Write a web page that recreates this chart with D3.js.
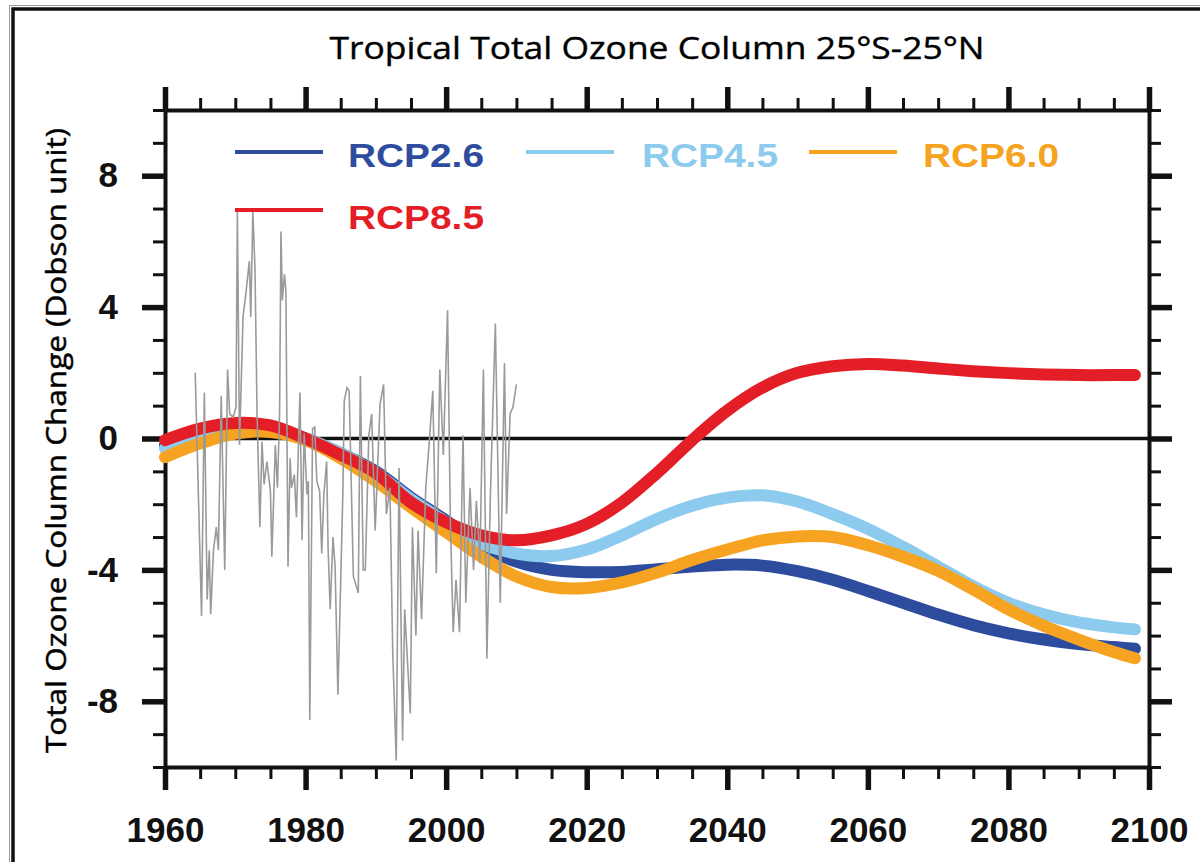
<!DOCTYPE html>
<html>
<head>
<meta charset="utf-8">
<script src="https://cdn.jsdelivr.net/npm/d3@7"></script>
<style>
  html, body { margin: 0; padding: 0; background: #fff; }
  svg { display: block; }
</style>
</head>
<body>
<div class="chart"></div>
<script>
// scenario years (model curves)
const scenarioYears = [1960, 1965, 1970, 1975, 1980, 1985, 1990, 1995, 2000, 2005, 2010,
  2015, 2020, 2025, 2030, 2035, 2040, 2045, 2050, 2055, 2060, 2065, 2070, 2075,
  2080, 2085, 2090, 2095, 2098];

const rcp26 = [-0.2, 0.15, 0.35, 0.3, 0.0, -0.45, -1.0, -1.8, -2.5, -3.25, -3.75,
  -4.0, -4.07, -4.06, -3.98, -3.9, -3.84, -3.87, -4.04, -4.3, -4.64, -5.0, -5.36, -5.68,
  -5.93, -6.12, -6.26, -6.35, -6.4];
const rcp45 = [-0.3, 0.1, 0.3, 0.28, 0.0, -0.45, -1.05, -1.85, -2.55, -3.2, -3.5,
  -3.58, -3.38, -2.95, -2.45, -2.05, -1.8, -1.73, -1.92, -2.3, -2.75, -3.3, -3.9, -4.5,
  -5.0, -5.35, -5.6, -5.75, -5.81];
const rcp60 = [-0.57, -0.15, 0.15, 0.2, -0.05, -0.6, -1.3, -2.1, -2.85, -3.6, -4.2,
  -4.52, -4.55, -4.38, -4.08, -3.7, -3.38, -3.1, -2.98, -3.0, -3.25, -3.6, -4.03, -4.6,
  -5.2, -5.7, -6.12, -6.5, -6.69];
const rcp85 = [-0.05, 0.3, 0.47, 0.4, 0.0, -0.5, -1.05, -1.95, -2.55, -2.95, -3.1,
  -2.95, -2.6, -1.95, -1.05, -0.05, 0.85, 1.55, 2.0, 2.2, 2.27, 2.22, 2.13, 2.05,
  1.99, 1.95, 1.93, 1.93, 1.93];

// observed anomalies (grey)
const obsYears = [1964.3, 1965.2, 1965.6, 1966.0, 1966.3, 1966.5, 1966.9, 1967.3, 1967.6, 1968.0,
  1968.3, 1968.5, 1968.9, 1969.2, 1969.7, 1970.1, 1970.3, 1970.6, 1971.1, 1971.5,
  1972.0, 1972.2, 1972.5, 1972.8, 1973.1, 1973.5, 1973.8, 1974.1, 1974.5, 1975.0,
  1975.2, 1975.7, 1976.0, 1976.3, 1976.5, 1976.7, 1977.0, 1977.2, 1977.5, 1977.8,
  1978.0, 1978.4, 1978.7, 1979.2, 1979.5, 1979.8, 1980.2, 1980.4, 1980.6, 1981.0,
  1981.3, 1981.6, 1982.0, 1982.3, 1982.6, 1983.0, 1983.2, 1983.5, 1983.9, 1984.2,
  1984.6, 1984.9, 1985.3, 1985.5, 1985.9, 1986.2, 1986.8, 1987.5, 1987.8, 1988.2,
  1988.5, 1989.0, 1989.4, 1989.9, 1990.6, 1991.1, 1991.5, 1992.0, 1992.4, 1992.9,
  1993.3, 1993.8, 1994.1, 1994.9, 1995.2, 1995.7, 1996.0, 1996.5, 1997.1, 1997.6,
  1998.1, 1998.6, 1999.1, 1999.6, 2000.2, 2000.6, 2001.0, 2001.4, 2001.9, 2002.4,
  2002.8, 2003.4, 2003.9, 2004.3, 2004.8, 2005.3, 2005.8, 2006.3, 2007.0, 2007.7,
  2008.3, 2008.6, 2009.1, 2009.5, 2010.0];
const obsValues = [2.0, -5.4, 1.4, -4.9, -3.4, -5.35, -3.4, -2.7, -3.4, 1.3,
  -1.9, -4.0, 2.1, 0.75, 0.65, 0.95, 6.9, -0.2, 3.7, 4.4,
  5.4, 3.7, 6.9, 5.2, 0.75, -2.7, -0.1, -1.4, -0.7, -1.6,
  -3.6, -0.2, -1.5, 0.75, 6.3, 4.2, 5.0, 4.5, -3.9, -0.6,
  -1.5, -1.1, -2.4, 1.4, -3.1, 0.15, -1.7, -1.3, -8.57, 0.3,
  0.35, -1.3, -1.6, -3.5, -1.7, -0.7, -3.3, -5.2, -3.0, -3.9,
  -7.8, -5.2, -1.7, 1.15, 1.55, 1.45, -4.2, -4.7, 1.9, -4.0,
  -4.0, 0.1, 0.75, -2.8, 1.05, 1.65, -2.3, -1.5, -6.5, -9.8,
  -0.9, -9.2, -5.2, -8.37, -2.7, -6.0, -2.8, -5.5, -1.5, -0.1,
  1.45, -4.1, 2.1, -0.5, 3.9, -2.5, -5.9, -4.3, -5.9, 0.1,
  -5.0, -1.5, -4.0, -1.9, -3.8, 2.1, -6.7, -1.7, 3.5, -5.0,
  2.3, -2.3, 0.75, 0.95, 1.65];

const seriesNames = ["RCP2.6", "RCP4.5", "RCP6.0", "RCP8.5"];
const seriesValues = [rcp26, rcp45, rcp60, rcp85];
const seriesColors = ["#2e4c9e", "#8ccbee", "#f5a320", "#e41e26"];

const xMajorTicks = [1960, 1980, 2000, 2020, 2040, 2060, 2080, 2100];
const yMajorTicks = [-8, -4, 0, 4, 8];

const width = 1200, height = 862;
const margin = { top: 110, right: 51, bottom: 95, left: 165 };
const innerW = width - margin.left - margin.right;
const innerH = height - margin.top - margin.bottom;

const svg = d3.select(".chart").append("svg")
  .attr("width", width)
  .attr("height", height);

// page frame
svg.append("rect")
  .attr("x", 9.5).attr("y", 5.5).attr("width", 1220).attr("height", 900)
  .attr("fill", "none").attr("stroke", "#999").attr("stroke-width", 1);
svg.append("rect")
  .attr("x", 13).attr("y", 9).attr("width", 1220).attr("height", 900)
  .attr("fill", "none").attr("stroke", "#111").attr("stroke-width", 3.5);

const x = d3.scaleLinear().domain([1960, 2100]).range([0, innerW]);
const y = d3.scaleLinear().domain([-10, 10]).range([innerH, 0]);

const g = svg.append("g")
  .attr("transform", "translate(" + margin.left + "," + margin.top + ")");

// title
svg.append("text")
  .attr("x", margin.left + innerW / 2)
  .attr("y", 59)
  .attr("text-anchor", "middle")
  .attr("font-family", "Open Sans, sans-serif")
  .attr("font-size", 31)
  .attr("fill", "#000")
  .attr("stroke", "#000")
  .attr("stroke-width", 0.4)
  .attr("textLength", 655)
  .attr("lengthAdjust", "spacingAndGlyphs")
  .text("Tropical Total Ozone Column 25°S-25°N");

// y axis title
svg.append("text")
  .attr("transform", "translate(66," + (margin.top + innerH / 2 + 2) + ") rotate(-90)")
  .attr("text-anchor", "middle")
  .attr("font-family", "Open Sans, sans-serif")
  .attr("font-size", 28)
  .attr("fill", "#000")
  .attr("stroke", "#000")
  .attr("stroke-width", 0.5)
  .attr("textLength", 625)
  .attr("lengthAdjust", "spacingAndGlyphs")
  .text("Total Ozone Column Change (Dobson unit)");

// zero line
g.append("line")
  .attr("x1", 0).attr("x2", innerW)
  .attr("y1", y(0)).attr("y2", y(0))
  .attr("stroke", "#111").attr("stroke-width", 3.5);

// axes: minor ticks then major ticks
function styleAxis(sel, w) {
  sel.selectAll(".domain").attr("stroke", "#111").attr("stroke-width", 4);
  sel.selectAll(".tick line").attr("stroke", "#111").attr("stroke-width", w);
}
const xMinor = d3.range(1960, 2101, 5);
const yMinor = d3.range(-10, 11, 1);

const axes = [
  { gen: d3.axisBottom, scale: x, minor: xMinor, major: xMajorTicks, t: "translate(0," + innerH + ")", labels: true, pad: 27 },
  { gen: d3.axisTop, scale: x, minor: xMinor, major: xMajorTicks, t: "translate(0,0)", labels: false, pad: 8 },
  { gen: d3.axisLeft, scale: y, minor: yMinor, major: yMajorTicks, t: "translate(0,0)", labels: true, pad: 24 },
  { gen: d3.axisRight, scale: y, minor: yMinor, major: yMajorTicks, t: "translate(" + innerW + ",0)", labels: false, pad: 8 }
];

axes.forEach(a => {
  const minorG = g.append("g").attr("transform", a.t)
    .call(a.gen(a.scale).tickValues(a.minor).tickSize(12).tickSizeOuter(0).tickFormat(""));
  styleAxis(minorG, 3);
  const majorG = g.append("g").attr("transform", a.t)
    .call(a.gen(a.scale).tickValues(a.major).tickSize(23).tickSizeOuter(0).tickPadding(a.pad)
      .tickFormat(a.labels ? (d => String(d)) : ""));
  styleAxis(majorG, 5.5);
  majorG.selectAll(".domain").remove();
  majorG.selectAll("text")
    .attr("font-family", "Liberation Sans, Arial, sans-serif")
    .attr("font-weight", "bold")
    .attr("font-size", 35)
    .attr("fill", "#111");
});

// model curves
const line = d3.line()
  .x(d => x(d[0]))
  .y(d => y(d[1]))
  .curve(d3.curveCatmullRom.alpha(0.5));

seriesValues.forEach((vals, i) => {
  const pts = scenarioYears.map((yr, j) => [yr, vals[j]]);
  g.append("path")
    .datum(pts)
    .attr("d", line)
    .attr("fill", "none")
    .attr("stroke", seriesColors[i])
    .attr("stroke-width", 12)
    .attr("stroke-linecap", "round");
});

// observations
const obsLine = d3.line()
  .x(d => x(d[0]))
  .y(d => y(d[1]));
g.append("path")
  .datum(obsYears.map((yr, j) => [yr, obsValues[j]]))
  .attr("d", obsLine)
  .attr("fill", "none")
  .attr("stroke", "#9a9a9a")
  .attr("stroke-width", 1.6)
  .attr("stroke-linejoin", "miter");

// legend
const legendItems = [
  { name: "RCP2.6", color: seriesColors[0], lx: 235, tx: 348, ly: 152, ty: 167 },
  { name: "RCP4.5", color: seriesColors[1], lx: 526, tx: 642, ly: 152, ty: 167 },
  { name: "RCP6.0", color: seriesColors[2], lx: 809, tx: 923, ly: 152, ty: 167 },
  { name: "RCP8.5", color: seriesColors[3], lx: 235, tx: 348, ly: 210, ty: 229 }
];
const legend = svg.append("g");
legendItems.forEach(d => {
  legend.append("line")
    .attr("x1", d.lx).attr("x2", d.lx + 88)
    .attr("y1", d.ly).attr("y2", d.ly)
    .attr("stroke", d.color).attr("stroke-width", 4);
  legend.append("text")
    .attr("x", d.tx).attr("y", d.ty)
    .attr("font-family", "Liberation Sans, Arial, sans-serif")
    .attr("font-weight", "bold")
    .attr("font-size", 34)
    .attr("fill", d.color)
    .attr("textLength", 136)
    .attr("lengthAdjust", "spacingAndGlyphs")
    .text(d.name);
});
</script>
</body>
</html>
